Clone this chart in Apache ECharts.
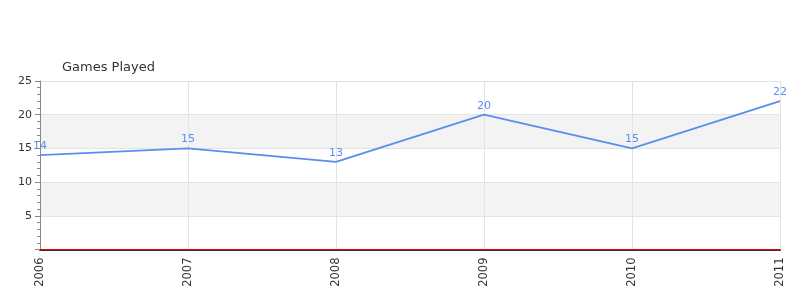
<!DOCTYPE html>
<html><head><meta charset="utf-8">
<script src="https://cdn.jsdelivr.net/npm/echarts@6/dist/echarts.min.js"></script>
<style>html,body{margin:0;padding:0;background:#fff}#c{width:800px;height:300px}</style>
</head><body><div id="c"></div>
<script>
var categories = ['2006','2007','2008','2009','2010','2011'];
var gamesPlayed = [14, 15, 13, 20, 15, 22];
var yTicks = [0, 5, 10, 15, 20, 25];
var chart = echarts.init(document.getElementById('c'));
chart.setOption({
  animation: false,
  title: { text: 'Games Played', left: 57, top: 56, textStyle: { fontSize: 13, fontWeight: 'normal', color: '#333', fontFamily: 'DejaVu Sans' } },
  grid: { left: 40, right: 20, top: 81, bottom: 50.5, containLabel: false },
  xAxis: {
    type: 'category', data: categories, boundaryGap: false,
    axisLine: { lineStyle: { color: '#333', width: 2 } },
    axisTick: { show: false },
    axisLabel: { rotate: 90, color: '#333', fontSize: 11.5, fontFamily: 'DejaVu Sans', margin: 8 },
    splitLine: { show: true, lineStyle: { color: '#e3e3e3' } }
  },
  yAxis: {
    type: 'value', min: yTicks[0], max: yTicks[yTicks.length - 1], interval: 5,
    axisLine: { show: true, lineStyle: { color: '#888' } },
    axisTick: { show: true, length: 5, lineStyle: { color: '#888' } },
    minorTick: { show: true, splitNumber: 5, length: 3, lineStyle: { color: '#888' } },
    axisLabel: { color: '#333', fontSize: 11, fontFamily: 'DejaVu Sans', showMinLabel: false, margin: 8 },
    splitLine: { show: true, lineStyle: { color: '#e3e3e3' } },
    splitArea: { show: true, areaStyle: { color: ['#ffffff', '#f3f3f3'] } }
  },
  series: [{
    type: 'line', data: gamesPlayed, symbol: 'circle', symbolSize: 1, showSymbol: true, showAllSymbol: true,
    lineStyle: { color: '#5b8def', width: 1.8 },
    itemStyle: { color: 'rgba(91,141,239,0)', borderWidth: 0 },
    label: { show: true, position: 'top', color: '#5b8def', fontSize: 11, fontFamily: 'DejaVu Sans', distance: 3 },
    markLine: { silent: true, symbol: 'none', label: { show: false }, lineStyle: { color: '#e00', width: 1, type: 'solid' }, data: [{ yAxis: 0 }] }
  }]
});
</script></body></html>
